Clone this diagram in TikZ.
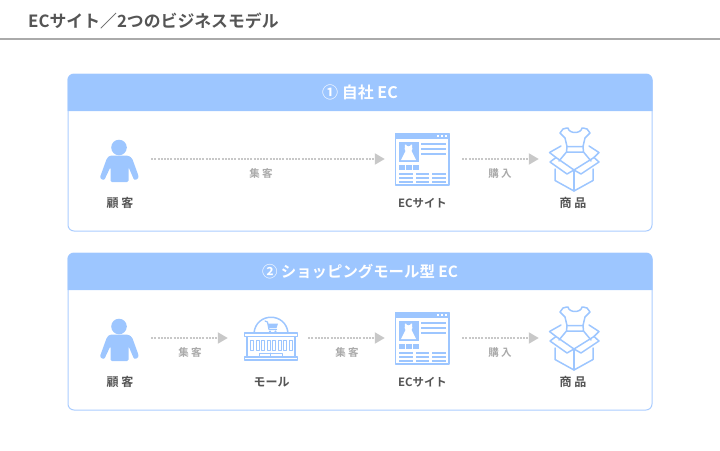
\documentclass[tikz,border=0pt]{standalone}
\usepackage{fontspec}
\setmainfont{Noto Sans CJK JP}[BoldFont={Noto Sans CJK JP Bold}]
\usetikzlibrary{arrows.meta}
\definecolor{headblue}{HTML}{9DC6FF}
\definecolor{edgeblue}{HTML}{ABCDFF}
\definecolor{titlegray}{HTML}{555555}
\definecolor{rulegray}{HTML}{AAAAAA}
\definecolor{flowgray}{HTML}{C8C8C8}
\tikzset{
  panelbox/.style={draw=edgeblue,line width=1pt,rounded corners=6pt,minimum width=584pt,minimum height=157pt,inner sep=0pt},
  headfill/.style={fill=headblue,rounded corners=6pt},
  headtext/.style={text=white,font=\bfseries\fontsize{16}{16}\selectfont,inner sep=0pt},
  nametext/.style={text=titlegray,font=\bfseries\fontsize{12}{12}\selectfont,inner sep=0pt},
  sitetext/.style={text=titlegray,font=\bfseries\fontsize{11.4}{12}\selectfont,inner sep=0pt},
  flowtext/.style={text=rulegray,font=\bfseries\fontsize{10.5}{11}\selectfont,inner sep=0pt},
  anchorbox/.style={inner sep=0pt,minimum height=40pt},
  flow/.style={draw=flowgray,line width=2pt,dash pattern=on 2pt off 1.2pt,-{Triangle[length=10pt,width=11pt,fill=flowgray]}},
  iconline/.style={draw=headblue,line width=1.5pt,line join=round,line cap=round},
  personicon/.pic={
    \begin{scope}[shift={(-119,-159)}]
      \fill[headblue] (119,147.5) circle (7.8);
      \fill[headblue,rounded corners=1.5pt] (110,155.5) -- (128,155.5) -- (132,158) -- (138.2,175) .. controls (139,179) and (134.5,181) .. (133,177.5) -- (128.5,167) -- (128.5,182) -- (110.5,182) -- (110.5,167) -- (105.5,177.5) .. controls (104,181) and (99.5,179) .. (100.8,175) -- (107,158) -- cycle;
    \end{scope}
  },
  webicon/.pic={
    \begin{scope}[shift={(-422,-159)}]
      \draw[iconline,line width=1.2pt,line cap=butt] (395.5,133.5) rectangle (449,185);
      \fill[headblue] (395.5,133.5) rectangle (449,138.5);
      \foreach \d in {436.5,440.5,444.5} \fill[white] (\d,135) rectangle +(2,2);
      \fill[headblue] (399,142) rectangle (418.5,162);
      \fill[white] (405,144.5) -- (406,144.5) .. controls (406.5,147) and (410.5,147) .. (411,144.5) -- (412,144.5) -- (412.3,149) -- (411.5,151) -- (416,160) -- (401,160) -- (405.5,151) -- (404.7,149) -- cycle;
      \foreach \d in {399,406,413} \fill[headblue] (\d,165) rectangle +(5.5,5);
      \foreach \d in {143,148,152.5} \fill[headblue] (421,\d) rectangle (446,\d+2.2);
      \foreach \d in {172.5,176.5,181} {
        \fill[headblue] (399,\d) rectangle (413,\d+2.2);
        \fill[headblue] (416,\d) rectangle (429,\d+2.2);
        \fill[headblue] (432,\d) rectangle (446,\d+2.2);
      }
    \end{scope}
  },
  boxicon/.pic={
    \begin{scope}[shift={(-575,-159)}]
      % dress
      \draw[iconline] (563,129) .. controls (567,128) and (566,128) .. (568,128) .. controls (569,134) and (581,134) .. (582,128) .. controls (584,128) and (583,128) .. (587,129) -- (590,133) -- (585,138) -- (583,146.5) -- (567,146.5) -- (565,138) -- (560,133) -- cycle;
      \draw[iconline] (567,146.5) -- (566.5,152) -- (583.5,152) -- (583,146.5);
      \draw[iconline] (566.5,152) -- (559,161);
      \draw[iconline] (583.5,152) -- (591,161);
      % box
      \draw[iconline] (555,169) -- (555,180.5) -- (574,191) -- (593,180.5) -- (593,169);
      \draw[iconline] (574,191) -- (574,170);
      \draw[iconline] (556,157.5) -- (574,170) -- (594,157.5);
      \draw[iconline] (556,157.5) -- (549.5,152.5) -- (561,146);
      \draw[iconline] (594,157.5) -- (599,152.5) -- (589,146);
      \draw[iconline] (556,157.5) -- (550,162) -- (567,174) -- (574,170);
      \draw[iconline] (594,157.5) -- (599,162) -- (581,174) -- (574,170);
    \end{scope}
  },
  mallicon/.pic={
    \begin{scope}[shift={(-270,-338)}]
      \draw[iconline] (254,333) .. controls (256,312) and (286,312) .. (288,333);
      \draw[iconline,line cap=butt] (244.5,333) rectangle (297.5,336.5);
      \draw[iconline,line cap=butt] (247,336.5) -- (247,357) (295,336.5) -- (295,357);
      \draw[iconline,line cap=butt] (244.5,357) rectangle (297.5,360);
      \foreach \d in {250.5,256,261.5,267,272.5,278,283.5,289} \draw[iconline,line width=1pt] (\d,340.5) rectangle +(3.4,9.5);
      \draw[iconline,line width=1pt] (259.5,353) rectangle (282,357) (270.7,353) -- (270.7,357);
      \draw[iconline,line width=1.2pt] (265,321) -- (267.5,322) -- (269,329.5) -- (276.5,329.5);
      \fill[headblue] (267.7,323.5) -- (278,323.5) -- (276.5,328) -- (268.7,328) -- cycle;
      \fill[headblue] (270,331.5) circle (1.1) (275.5,331.5) circle (1.1);
    \end{scope}
  }
}
\begin{document}
\begin{tikzpicture}[x=1pt,y=-1pt]
\useasboundingbox (0,0) rectangle (720,450);
\node[anchor=west,text=titlegray,font=\bfseries\fontsize{16.85}{17}\selectfont,inner sep=0pt] (title) at (28,21) {ECサイト／2つのビジネスモデル};
\coordinate (ruleL) at (0,39);
\coordinate (ruleR) at (720,39);
\draw[rulegray,line width=1.6pt] (ruleL) -- (ruleR);

% panel 1
\node[panelbox] (panelA) at (360,152.5) {};
\fill[headfill] (67.5,111) [sharp corners] -- (67.5,111) [rounded corners=6pt] -- (67.5,74) -- (652.5,74) [sharp corners] -- (652.5,111) -- cycle;
\node[headtext] (headA) at (360,92.5) {① 自社 EC};

% panel 2
\node[panelbox] (panelB) at (360,331.5) {};
\fill[headfill] (67.5,290) [sharp corners] -- (67.5,290) [rounded corners=6pt] -- (67.5,253) -- (652.5,253) [sharp corners] -- (652.5,290) -- cycle;
\node[headtext,font=\bfseries\fontsize{15.4}{16}\selectfont] (headB) at (360,272) {② ショッピングモール型 EC};

% row 1
\pic at (119,159) {personicon};
\pic at (422,159) {webicon};
\pic at (575,159) {boxicon};
\node[anchorbox,minimum width=64pt] (custA) at (119,159) {};
\node[anchorbox,minimum width=77pt] (siteA) at (423.5,159) {};
\node[anchorbox,minimum width=73pt] (itemA) at (575.5,159) {};
\draw[flow] (custA.east) -- (siteA.west);
\draw[flow] (siteA.east) -- (itemA.west);
\node[flowtext] (lblA1) at (261,173) {集 客};
\node[flowtext] (lblA2) at (500,173.5) {購 入};
\node[nametext] (nameA1) at (120,203) {顧 客};
\node[sitetext] (nameA2) at (422.5,203) {ECサイト};
\node[nametext] (nameA3) at (573,203) {商 品};

% row 2
\pic at (119,338) {personicon};
\pic at (270,338) {mallicon};
\pic at (422,338) {webicon};
\pic at (575,338) {boxicon};
\node[anchorbox,minimum width=64pt] (custB) at (119,338) {};
\node[anchorbox,minimum width=80pt] (mallB) at (268,338) {};
\node[anchorbox,minimum width=77pt] (siteB) at (423.5,338) {};
\node[anchorbox,minimum width=73pt] (itemB) at (575.5,338) {};
\draw[flow] (custB.east) -- (mallB.west);
\draw[flow] (mallB.east) -- (siteB.west);
\draw[flow] (siteB.east) -- (itemB.west);
\node[flowtext] (lblB1) at (190,352.5) {集 客};
\node[flowtext] (lblB2) at (347,352.5) {集 客};
\node[flowtext] (lblB3) at (500,352.5) {購 入};
\node[nametext] (nameB1) at (120,382) {顧 客};
\node[nametext] (nameB2) at (271.5,382) {モール};
\node[sitetext] (nameB3) at (422.5,382) {ECサイト};
\node[nametext] (nameB4) at (573,382) {商 品};
\end{tikzpicture}
\end{document}
